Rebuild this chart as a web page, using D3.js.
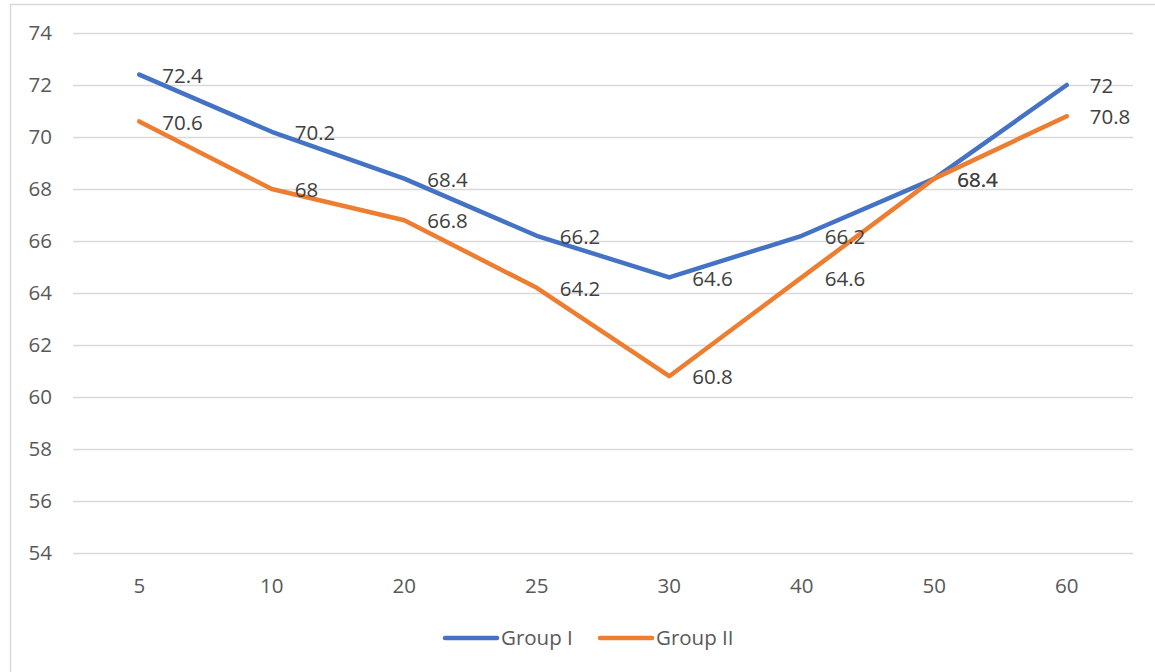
<!DOCTYPE html>
<html>
<head>
<meta charset="utf-8">
<script src="https://cdn.jsdelivr.net/npm/d3@7"></script>
<style>
  html, body { margin: 0; padding: 0; background: #fff; }
  svg { display: block; }
  text { font-family: "Open Sans", "Noto Sans", sans-serif; }
</style>
</head>
<body>
<svg id="chart" width="1155" height="672"></svg>
<script>
// Categories along the x axis
const categories = ["5", "10", "20", "25", "30", "40", "50", "60"];
// Series values
const groupI  = [72.4, 70.2, 68.4, 66.2, 64.6, 66.2, 68.4, 72];
const groupII = [70.6, 68, 66.8, 64.2, 60.8, 64.6, 68.4, 70.8];
// Y tick labels
const yTicks = [54, 56, 58, 60, 62, 64, 66, 68, 70, 72, 74];

const series = [
  { name: "Group I",  values: groupI,  color: "#4472C4" },
  { name: "Group II", values: groupII, color: "#ED7D31" }
];

const FONT = "20.5px";
const svg = d3.select("#chart");
const W = 1155, H = 672;
const plot = { left: 73, right: 1133, top: 33, bottom: 553 };

// chart frame
svg.append("rect")
  .attr("x", 10.5).attr("y", 4.5)
  .attr("width", W + 10).attr("height", H + 10)
  .attr("fill", "#fff").attr("stroke", "#d9d9d9").attr("stroke-width", 1.5);

const x = d3.scaleBand().domain(categories).range([plot.left, plot.right]);
const y = d3.scaleLinear().domain([54, 74]).range([plot.bottom, plot.top]);

// horizontal gridlines
const yAxis = d3.axisLeft(y).tickValues(yTicks).tickSize(-(plot.right - plot.left)).tickPadding(21);
const gy = svg.append("g").attr("transform", `translate(${plot.left},0)`).call(yAxis);
gy.select(".domain").remove();
gy.selectAll(".tick line").attr("stroke", "#d9d9d9").attr("stroke-width", 1.3);
gy.selectAll(".tick text").attr("fill", "#595959").style("font-size", FONT)
  .style("font-family", "'Open Sans', sans-serif");

// category axis labels (no axis line)
const xAxis = d3.axisBottom(x).tickSize(0).tickPadding(25);
const gx = svg.append("g").attr("transform", `translate(0,${plot.bottom})`).call(xAxis);
gx.select(".domain").remove();
gx.selectAll(".tick text").attr("fill", "#595959").style("font-size", FONT)
  .style("font-family", "'Open Sans', sans-serif");

const cx = c => x(c) + x.bandwidth() / 2;
const line = d3.line().x((d, i) => cx(categories[i])).y(d => y(d));

series.forEach(s => {
  svg.append("path")
    .datum(s.values)
    .attr("d", line)
    .attr("fill", "none")
    .attr("stroke", s.color)
    .attr("stroke-width", 4.5)
    .attr("stroke-linecap", "round")
    .attr("stroke-linejoin", "round");
});

// data labels to the right of each point
series.forEach(s => {
  svg.append("g").selectAll("text")
    .data(s.values)
    .join("text")
    .attr("x", (d, i) => cx(categories[i]) + 23)
    .attr("y", d => y(d) + 1)
    .attr("dy", "0.35em")
    .attr("fill", "#404040")
    .style("font-size", FONT)
    .text(d => d);
});

// legend
const legend = svg.append("g");
const legendItems = [
  { s: series[0], x: 443 },
  { s: series[1], x: 598 }
];
legendItems.forEach(it => {
  legend.append("line")
    .attr("x1", it.x + 2).attr("x2", it.x + 54)
    .attr("y1", 638).attr("y2", 638)
    .attr("stroke", it.s.color).attr("stroke-width", 4.5)
    .attr("stroke-linecap", "round");
  legend.append("text")
    .attr("x", it.x + 58).attr("y", 638).attr("dy", "0.35em")
    .attr("fill", "#595959").style("font-size", FONT)
    .text(it.s.name);
});
</script>
</body>
</html>
